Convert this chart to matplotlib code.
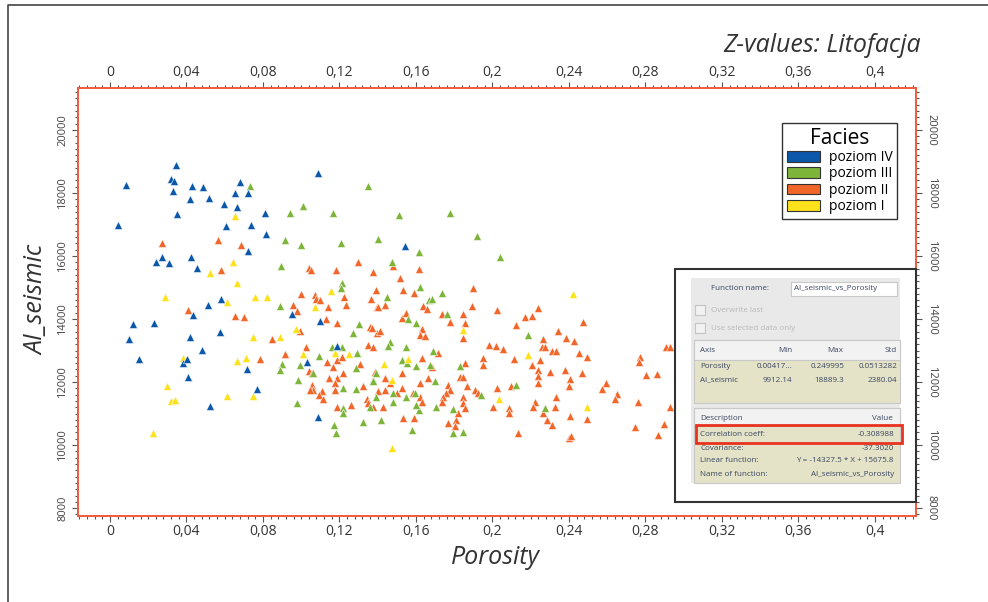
import numpy as np
import matplotlib
matplotlib.use("Agg")
import matplotlib.pyplot as plt
from matplotlib.patches import Rectangle, Patch
from matplotlib.ticker import FixedLocator, MultipleLocator, FuncFormatter

plt.rcParams['font.family'] = ['Open Sans', 'DejaVu Sans']

# (Porosity, AI_seismic) per facies
poziom_IV = np.array([
    (0.0343, 18889), (0.0084, 18254), (0.0317, 18445), (0.0336, 18390), (0.0331, 18063),
    (0.0427, 18232), (0.0488, 18180), (0.0680, 18339), (0.0654, 18011), (0.0723, 18011),
    (0.0418, 17810), (0.0518, 17831), (0.0596, 17651), (0.0666, 17566), (0.0349, 17333),
    (0.0810, 17354), (0.0042, 16994), (0.0605, 16962), (0.0736, 16984), (0.0816, 16698),
    (0.0723, 16168), (0.0270, 15978), (0.0240, 15820), (0.0310, 15787), (0.0425, 15978),
    (0.0453, 15608), (0.1086, 18625), (0.0580, 14624), (0.0512, 14444), (0.0435, 14127),
    (0.0122, 13841), (0.0230, 13862), (0.0101, 13365), (0.0418, 13439), (0.0575, 13577),
    (0.0480, 13016), (0.0150, 12730), (0.0383, 12593), (0.0404, 12730), (0.0715, 12402),
    (0.0409, 12148), (0.0767, 11778), (0.0523, 11248), (0.1086, 10899), (0.0950, 14159),
    (0.1101, 13947), (0.1033, 12645), (0.1188, 13153), (0.1543, 16327),
])

poziom_III = np.array([
    (0.0732, 18222), (0.1350, 18222), (0.1007, 17597), (0.0944, 17375), (0.1164, 17354),
    (0.0915, 16508), (0.0998, 16349), (0.1208, 16402), (0.1400, 16529), (0.0892, 15692),
    (0.1211, 15154), (0.1206, 14995), (0.0889, 14413), (0.1303, 13831), (0.1269, 13566),
    (0.1159, 13121), (0.1211, 13121), (0.1094, 12826), (0.1293, 12910), (0.1286, 12434),
    (0.0901, 12571), (0.0889, 12381), (0.0994, 12540), (0.1060, 12275), (0.0981, 12063),
    (0.1220, 11799), (0.1286, 11767), (0.1377, 12063), (0.1391, 11534), (0.0976, 11323),
    (0.1217, 11164), (0.1220, 11005), (0.1324, 10740), (0.1170, 10635), (0.1180, 10371),
    (0.1359, 11217), (0.1513, 17302), (0.1778, 17375), (0.1917, 16635), (0.1617, 16138),
    (0.2039, 15958), (0.1473, 15820), (0.1621, 15027), (0.1450, 14688), (0.1739, 14815),
    (0.1670, 14603), (0.1682, 14624), (0.1560, 13990), (0.1603, 13884), (0.1765, 14159),
    (0.2187, 13492), (0.1464, 13280), (0.1455, 13143), (0.1548, 13100), (0.1690, 12995),
    (0.2184, 12857), (0.1525, 12698), (0.1554, 12593), (0.1603, 12508), (0.1673, 12540),
    (0.1830, 12508), (0.1390, 12275), (0.1377, 12042), (0.1699, 12042), (0.2125, 11905),
    (0.1481, 11640), (0.1481, 11376), (0.1548, 11513), (0.1595, 11640), (0.1617, 11111),
    (0.1603, 11270), (0.1705, 11217), (0.1792, 11132), (0.1940, 11587), (0.2275, 11164),
    (0.1420, 10794), (0.1582, 10476), (0.1792, 10371), (0.1847, 10423),
])

poziom_II = np.array([
    (0.0270, 16423), (0.0566, 16508), (0.0685, 16349), (0.0580, 15556), (0.1042, 15608),
    (0.1049, 15556), (0.1182, 15556), (0.1298, 15820), (0.1373, 15503), (0.0997, 14783),
    (0.1072, 14762), (0.1077, 14624), (0.1101, 14603), (0.0958, 14444), (0.1141, 14370),
    (0.1225, 14688), (0.1237, 14444), (0.1390, 14921), (0.1367, 14624), (0.1394, 14392),
    (0.0409, 14286), (0.0979, 14265), (0.0654, 14106), (0.0701, 14074), (0.1129, 13990),
    (0.1188, 13862), (0.0845, 13355), (0.0994, 13630), (0.1359, 13735), (0.1394, 13545),
    (0.1350, 13175), (0.1377, 13121), (0.1025, 13100), (0.0915, 12889), (0.0784, 12730),
    (0.1133, 12624), (0.1185, 12698), (0.1167, 12466), (0.1216, 12804), (0.1307, 12571),
    (0.1042, 12360), (0.1054, 12275), (0.1220, 12275), (0.1386, 12307), (0.1146, 12116),
    (0.1185, 12116), (0.1176, 11978), (0.1054, 11905), (0.1063, 11746), (0.1046, 11746),
    (0.1107, 11725), (0.1094, 11587), (0.1112, 11450), (0.1176, 11746), (0.1258, 11270),
    (0.1185, 11217), (0.1342, 11450), (0.1350, 11323), (0.1324, 11873),
    (0.1478, 15683), (0.1617, 15577), (0.1516, 15291), (0.1530, 14921), (0.1591, 14815),
    (0.1896, 14995), (0.1403, 14392), (0.1438, 14444), (0.1638, 14413), (0.1656, 14307),
    (0.1891, 14413), (0.2025, 14286), (0.2239, 14339), (0.1734, 14159), (0.1847, 14159),
    (0.1856, 13862), (0.1778, 13915), (0.1525, 14022), (0.1548, 14180), (0.2170, 14074),
    (0.2205, 14095), (0.2121, 13810), (0.2472, 13894), (0.1368, 13704), (0.1412, 13630),
    (0.1634, 13672), (0.1621, 13492), (0.1647, 13460), (0.1847, 13386), (0.2344, 13630),
    (0.2384, 13386), (0.2426, 13312), (0.2263, 13355), (0.2257, 13100), (0.2275, 13100),
    (0.1983, 13175), (0.2018, 13143), (0.2056, 13058), (0.2309, 12995), (0.2335, 12995),
    (0.2454, 12931), (0.2495, 12783), (0.1952, 12772), (0.1949, 12540), (0.2112, 12730),
    (0.2248, 12698), (0.2771, 12804), (0.2768, 12645), (0.2907, 13100), (0.2928, 13100),
    (0.1716, 12931), (0.1630, 12751), (0.1856, 12614), (0.1525, 12275), (0.1682, 12487),
    (0.2205, 12540), (0.2239, 12381), (0.2301, 12328), (0.2379, 12381), (0.2466, 12296),
    (0.1830, 12169), (0.1847, 12169), (0.1438, 12116), (0.1464, 11978), (0.1621, 11958),
    (0.1664, 12116), (0.2405, 12085), (0.2401, 11873), (0.2239, 12190), (0.2239, 11978),
    (0.2593, 11978), (0.2805, 12222), (0.2859, 12254), (0.1769, 11905), (0.1778, 11746),
    (0.1757, 11661), (0.1865, 11873), (0.1908, 11746), (0.1926, 11640), (0.2022, 11799),
    (0.2095, 11873), (0.2575, 11767), (0.2649, 11619), (0.2640, 11450), (0.1403, 11725),
    (0.1438, 11746), (0.1499, 11640), (0.1525, 11799), (0.1586, 11640), (0.1621, 11534),
    (0.1630, 11376), (0.1743, 11534), (0.1734, 11376), (0.1847, 11513), (0.1844, 11323),
    (0.1856, 11164), (0.1377, 11217), (0.1429, 11217), (0.2004, 11217), (0.2087, 11164),
    (0.2087, 11005), (0.2222, 11376), (0.2213, 11196), (0.2335, 11534), (0.2327, 11217),
    (0.2266, 11005), (0.2283, 10794), (0.2309, 10635), (0.2405, 10921), (0.2493, 10815),
    (0.2763, 11376), (0.2928, 11217), (0.1530, 10847), (0.1591, 10847), (0.1769, 10688),
    (0.1812, 10794), (0.1821, 11005), (0.1804, 10603), (0.2135, 10371), (0.2401, 10212),
    (0.2410, 10286), (0.2745, 10582), (0.2867, 10317), (0.2897, 10667),
])

poziom_I = np.array([
    (0.0654, 17281), (0.0645, 15820), (0.0523, 15450), (0.0666, 15133), (0.0288, 14688),
    (0.0610, 14550), (0.0760, 14708), (0.0822, 14708), (0.1072, 14392), (0.1154, 14899),
    (0.0973, 13672), (0.0749, 13418), (0.0889, 13418), (0.1007, 12889), (0.0666, 12677),
    (0.0709, 12772), (0.0383, 12751), (0.1176, 12910), (0.1251, 12889), (0.0300, 11873),
    (0.0317, 11407), (0.0340, 11429), (0.0610, 11556), (0.0746, 11556), (0.0223, 10371),
    (0.2423, 14794), (0.1844, 13651), (0.1433, 12571), (0.1560, 12720), (0.1473, 12063),
    (0.2187, 12857), (0.2034, 11450), (0.2497, 11217), (0.1473, 9912),
])

facies = ['poziom IV', 'poziom III', 'poziom II', 'poziom I']
colors = ['#0b58aa', '#7db53a', '#f2662a', '#fde11a']

x_ticks = np.round(np.arange(0, 0.41, 0.04), 2)
y_ticks = np.arange(8000, 20001, 2000)

stats_rows = [('Porosity', '0.00417...', '0.249995', '0.0513282'),
              ('AI_seismic', '9912.14', '18889.3', '2380.04')]
desc_rows = [('Correlation coeff:', '-0.308988'),
             ('Covariance:', '-37.3020'),
             ('Linear function:', 'Y = -14327.5 * X + 15675.8'),
             ('Name of function:', 'AI_seismic_vs_Porosity')]

W, H = 988, 602
fig = plt.figure(figsize=(W / 100, H / 100), dpi=100)
fig.patch.set_facecolor('white')

ax = fig.add_axes([78 / W, 1 - 516 / H, (916 - 78) / W, (516 - 88) / H])
ax.set_xlim(-0.0167, 0.4215)
ax.set_ylim(7750, 21330)

for data, col in [(poziom_II, colors[2]), (poziom_III, colors[1]),
                  (poziom_I, colors[3]), (poziom_IV, colors[0])]:
    ax.scatter(data[:, 0], data[:, 1], marker='^', s=34, color=col,
               edgecolors='white', linewidths=0.4, zorder=3)

red = '#ef5a3c'
for sp in ax.spines.values():
    sp.set_color(red)
    sp.set_linewidth(1.4)

fmt = FuncFormatter(lambda v, p: f"{v:g}".replace('.', ','))
ax.xaxis.set_major_locator(FixedLocator(x_ticks))
ax.xaxis.set_minor_locator(MultipleLocator(0.004))
ax.xaxis.set_major_formatter(fmt)
ax.yaxis.set_major_locator(FixedLocator(y_ticks))
ax.yaxis.set_minor_locator(MultipleLocator(200))
ax.tick_params(axis='x', which='both', top=True, labeltop=True, direction='out',
               colors='#555555', labelcolor='#333333', labelsize=10, pad=2)
ax.tick_params(axis='y', which='both', right=True, labelright=True, direction='out',
               colors='#555555', labelcolor='#444444', labelsize=8, pad=3)
ax.tick_params(which='major', length=4, width=0.8)
ax.tick_params(which='minor', length=2, width=0.8)
ax.yaxis.set_tick_params(which='major', labelrotation=90)
for t in ax.yaxis.get_major_ticks():
    t.label2.set_rotation(270)
    t.label1.set_va('center')
    t.label2.set_va('center')

handles = [Patch(facecolor=c, edgecolor='#333333', linewidth=0.8) for c in colors]
leg = ax.legend(handles, facies, title='Facies', loc='upper left',
                bbox_to_anchor=(0.832, 0.935), fancybox=False, framealpha=1,
                edgecolor='#333333', fontsize=10, title_fontsize=15,
                handlelength=2.4, handleheight=0.8, handletextpad=0.6,
                labelspacing=0.1, borderpad=0.35)
leg.get_frame().set_linewidth(1.0)
leg.set_zorder(10)

fig.text(921 / W, 1 - 45 / H, 'Z-values: Litofacja', ha='right', va='center',
         fontsize=18, style='italic', color='#333333')
fig.text(37 / W, 1 - 300 / H, 'AI_seismic', ha='center', va='center',
         rotation=90, fontsize=18, style='italic', color='#333333')
fig.text(495 / W, 1 - 557 / H, 'Porosity', ha='center', va='center',
         fontsize=18, style='italic', color='#333333')

# overlay in pixel coordinates: outer frame and pasted statistics panel
ov = fig.add_axes([0, 0, 1, 1], zorder=20)
ov.set_xlim(0, W)
ov.set_ylim(H, 0)
ov.axis('off')
ov.patch.set_visible(False)
ov.plot([8, 8, W], [H, 5, 5], color='#444444', lw=1.2)

ov.add_patch(Rectangle((675, 269), 241, 233, facecolor='white', edgecolor='#333333', lw=1.5))
ov.add_patch(Rectangle((691, 278), 209, 205, facecolor='#e9e9e9', edgecolor='none'))
tc = '#3a4660'
fs = 5.8
ov.text(711, 288, 'Function name:', fontsize=fs, color=tc, va='center')
ov.add_patch(Rectangle((791, 282), 106, 14, facecolor='white', edgecolor='#c8c8c8', lw=0.8))
ov.text(794, 288.5, 'AI_seismic_vs_Porosity', fontsize=fs, color=tc, va='center')
for yy, txt in [(310, 'Overwrite last'), (328, 'Use selected data only')]:
    ov.add_patch(Rectangle((695, yy - 5), 10, 10, facecolor='#f2f2f2', edgecolor='#c4c4c4', lw=0.8))
    ov.text(711, yy, txt, fontsize=fs, color='#b8b8b8', va='center')

beige = '#e4e3c8'
ov.add_patch(Rectangle((694, 340), 206, 63, facecolor=beige, edgecolor='#c8c8c8', lw=0.8))
ov.add_patch(Rectangle((694, 340), 206, 20, facecolor='#f2f2f2', edgecolor='#c8c8c8', lw=0.8))
ov.text(700, 350, 'Axis', fontsize=fs, color=tc, va='center')
for xr, txt in [(792, 'Min'), (843, 'Max'), (897, 'Std')]:
    ov.text(xr, 350, txt, fontsize=fs, color=tc, va='center', ha='right')
for i, (name, mn, mx, sd) in enumerate(stats_rows):
    yy = 367 + i * 13
    ov.text(700, yy, name, fontsize=fs, color=tc, va='center')
    for xr, txt in [(792, mn), (844, mx), (897, sd)]:
        ov.text(xr, yy, txt, fontsize=fs, color=tc, va='center', ha='right')

ov.add_patch(Rectangle((694, 408), 206, 75, facecolor=beige, edgecolor='#c8c8c8', lw=0.8))
ov.add_patch(Rectangle((694, 408), 206, 18, facecolor='#f2f2f2', edgecolor='#c8c8c8', lw=0.8))
ov.text(700, 419, 'Description', fontsize=fs, color=tc, va='center')
ov.text(893, 419, 'Value', fontsize=fs, color=tc, va='center', ha='right')
for i, (name, val) in enumerate(desc_rows):
    yy = 435 + i * 13
    ov.text(700, yy, name, fontsize=fs, color=tc, va='center')
    ov.text(894, yy, val, fontsize=fs, color=tc, va='center', ha='right')
ov.add_patch(Rectangle((696, 425), 206, 18, facecolor='none', edgecolor='#e8321e', lw=2))

fig.savefig('out.png', dpi=100)
